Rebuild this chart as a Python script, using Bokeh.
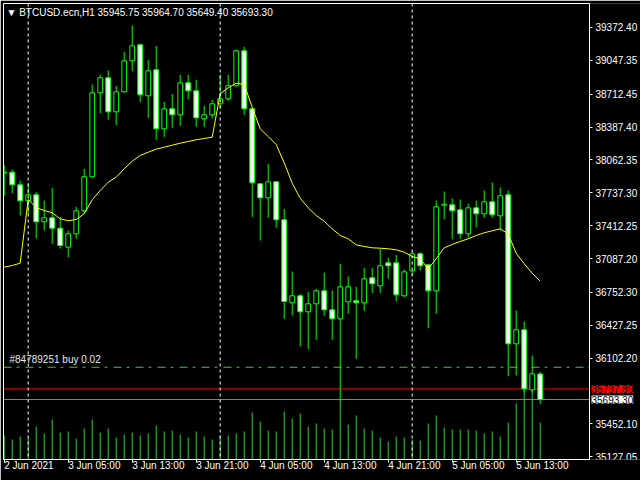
import numpy as np
from bokeh.plotting import figure
from bokeh.models import (Range1d, FixedTicker, Span, Label, ColumnDataSource,
                          NumeralTickFormatter, LinearAxis)
from bokeh.embed import file_html
from bokeh.resources import INLINE
from bokeh.core.properties import value

# ---------------- data (BTCUSD.ecn, H1) ----------------
# bar position = hours counted from 3 Jun 2021 00:00
bar_hour = list(range(-3, 65))

open_ = [37933.5, 37941.5, 37816.9, 37658.6, 37718.0, 37451.0, 37490.5, 37387.7,
         37199.8, 37332.3, 37559.7, 37896.0, 38726.7, 38875.0, 38538.8, 38736.5,
         39043.1, 39201.3, 38697.0, 38954.1, 38370.6, 38568.4, 38509.1, 38825.5,
         38746.4, 38469.5, 38509.1, 38617.9, 38667.3, 38795.9, 39142.0, 38568.4,
         37826.7, 37688.3, 37846.5, 37470.7, 36650.0, 36719.2, 36561.0, 36640.1,
         36768.6, 36580.7, 36491.7, 36659.8, 36669.7, 36650.0, 36897.2, 36818.1,
         37045.5, 37045.5, 36719.2, 36966.4, 37134.5, 37025.7, 36768.6, 37615.1,
         37619.1, 37569.6, 37332.3, 37589.4, 37530.1, 37648.7, 37510.3, 37718.0,
         36244.5, 36383.0, 35789.6, 35945.75]
high = [38007.7, 37968.2, 37859.4, 37832.7, 37743.7, 37661.6, 37787.2, 37496.5,
        37364.9, 37599.3, 37975.1, 38808.7, 38907.6, 38947.2, 38795.9, 39132.1,
        39392.2, 39211.2, 39053.0, 39191.4, 38637.6, 38716.8, 38904.7, 38904.7,
        38855.2, 38598.1, 38657.4, 38904.7, 38904.7, 39151.9, 39181.5, 38571.4,
        37829.7, 38024.5, 37849.5, 37579.5, 36959.5, 36739.0, 36758.7, 36788.4,
        36949.6, 36771.6, 37035.6, 36910.0, 36808.2, 36996.1, 36996.1, 37183.9,
        37095.0, 37124.6, 36979.3, 37157.3, 37150.3, 37028.7, 37661.6, 37750.6,
        37681.4, 37671.5, 37631.9, 37661.6, 37760.5, 37839.6, 37790.2, 37760.5,
        36573.8, 36465.0, 36128.8, 35964.70]
low = [37711.0, 37733.8, 37513.3, 37533.0, 37285.8, 37364.9, 37233.4, 37186.9,
       37100.9, 37282.9, 37530.1, 37884.1, 38524.9, 38459.6, 38410.2, 38729.6,
       38940.3, 38633.7, 38479.4, 38261.9, 38291.5, 38380.5, 38400.3, 38663.4,
       38390.4, 38390.4, 38472.5, 38568.4, 38647.5, 38788.9, 38509.1, 37500.4,
       37266.0, 37490.5, 37391.6, 36491.7, 36524.4, 36217.8, 36191.1, 36284.1,
       36521.4, 36284.1, 35683.8, 36541.2, 36096.2, 36570.8, 36748.9, 36748.9,
       36887.3, 36665.8, 36707.3, 36919.9, 36969.4, 36398.8, 36541.2, 37476.7,
       37278.9, 37282.9, 37292.8, 37397.6, 37490.5, 37490.5, 37364.9, 35924.1,
       35931.0, 35762.9, 35762.9, 35649.40]
close = [37943.4, 37816.9, 37658.6, 37718.0, 37451.0, 37490.5, 37387.7, 37216.6,
         37332.3, 37559.7, 37896.0, 38726.7, 38875.0, 38538.8, 38736.5, 39043.1,
         39191.4, 38706.9, 38944.2, 38370.6, 38568.4, 38509.1, 38825.5, 38746.4,
         38479.4, 38509.1, 38617.9, 38667.3, 38795.9, 39142.0, 38568.4, 37836.6,
         37688.3, 37846.5, 37470.7, 36662.8, 36719.2, 36561.0, 36640.1, 36768.6,
         36580.7, 36491.7, 36808.2, 36808.2, 36650.0, 36887.3, 36837.9, 37015.9,
         37015.9, 36729.1, 36956.5, 37134.5, 37015.9, 36768.6, 37599.3, 37625.0,
         37559.7, 37332.3, 37589.4, 37530.1, 37648.7, 37520.2, 37708.1, 36244.5,
         36383.0, 35799.5, 35947.8, 35693.30]
moving_avg = [37002.0, 37018.8, 37041.6, 37671.5, 37592.4, 37562.7, 37540.0, 37480.6,
              37460.9, 37473.7, 37530.1, 37668.5, 37760.5, 37842.6, 37892.0, 37975.1,
              38050.2, 38106.6, 38139.2, 38168.9, 38188.7, 38208.5, 38228.2, 38245.1,
              38261.9, 38274.7, 38287.5, 38716.8, 38776.1, 38821.6, 38808.7, 38584.2,
              38370.6, 38294.5, 38215.4, 38034.4, 37832.7, 37684.3, 37589.4, 37513.3,
              37456.9, 37381.7, 37315.5, 37282.9, 37223.5, 37206.7, 37193.8, 37189.9,
              37183.9, 37174.1, 37150.3, 37107.8, 37085.1, 36986.2, 37085.1, 37193.8,
              37226.5, 37256.2, 37282.9, 37315.5, 37342.2, 37362.0, 37381.7, 37332.3,
              37140.4, 37035.6, 36942.7, 36863.6]
volume = [720, 600, 690, 660, 990, 780, 1200, 810, 840, 630, 930, 1200, 810, 930,
          660, 750, 810, 720, 780, 1020, 840, 870, 750, 660, 840, 690, 600, 720,
          720, 780, 840, 1410, 1140, 870, 840, 1440, 1230, 1380, 990, 1080, 930,
          900, 1800, 1050, 1320, 930, 870, 660, 540, 690, 660, 600, 570, 1080,
          1320, 960, 900, 900, 900, 870, 780, 840, 690, 1110, 1680, 2100, 2100, 1110]

x_tick_hours = [-3, 5, 13, 21, 29, 37, 45, 53, 61]
x_tick_labels = ["2 Jun 2021", "3 Jun 05:00", "3 Jun 13:00", "3 Jun 21:00",
                 "4 Jun 05:00", "4 Jun 13:00", "4 Jun 21:00", "5 Jun 05:00",
                 "5 Jun 13:00"]
price_ticks = [39372.40, 39047.35, 38712.45, 38387.40, 38062.35, 37737.30,
               37412.25, 37087.20, 36752.30, 36427.25, 36102.20, 35452.10, 35127.05]
day_separators = [0, 24, 48]
ask_price = 35797.89
bid_price = 35693.30
order_price = 36012.50
order_text = "#84789251 buy 0.02"
header_text = "\u25bc  BTCUSD.ecn,H1  35945.75 35964.70 35649.40 35693.30"

# ---------------- figure ----------------
FONT = "Liberation Sans"
FSIZE = "10px"
CANDLE_LINE = "#00ff00"
VOL_COLOR = "#32cd32"

# view window (hours) and price window
x_start, x_end = -3.0875, 76.5375
x_axis = 70.1625            # where the price scale sits
y_start, y_end = 35100.3, 39609.7

p = figure(width=640, height=480, output_backend="svg", toolbar_location=None,
           x_range=Range1d(x_start, x_end), y_range=Range1d(y_start, y_end),
           y_axis_location="right", background_fill_color="black",
           border_fill_color="black", min_border_left=3, min_border_top=3,
           min_border_right=0, min_border_bottom=21)
p.outline_line_color = None
p.grid.visible = False
p.extra_y_ranges = {"vol": Range1d(0, 13680)}

top = [max(o, c) for o, c in zip(open_, close)]
bottom = [min(o, c) for o, c in zip(open_, close)]
fill = ["white" if c < o else "black" for o, c in zip(open_, close)]
src = ColumnDataSource(dict(x=bar_hour, open=open_, high=high, low=low, close=close,
                            top=top, bottom=bottom, fill=fill, ma=moving_avg,
                            vol=volume, zero=[0] * len(volume)))

# volumes (bottom overlay)
p.segment(x0="x", y0="zero", x1="x", y1="vol", source=src, y_range_name="vol",
          line_color=VOL_COLOR, line_width=1)

# day separators
for d in day_separators:
    p.add_layout(Span(location=d, dimension="height", line_color="white",
                      line_dash="3 3", line_width=1))

# trade / price levels (stop at the price scale)
p.segment(x0=[x_start], y0=[order_price], x1=[x_axis], y1=[order_price],
          line_color=VOL_COLOR, line_dash="8 5 3 6", line_width=1)
p.segment(x0=[x_start], y0=[ask_price], x1=[x_axis], y1=[ask_price],
          line_color="red", line_width=1)
p.segment(x0=[x_start], y0=[bid_price], x1=[x_axis], y1=[bid_price],
          line_color="#778899", line_width=1)

# candles
p.segment(x0="x", y0="low", x1="x", y1="high", source=src,
          line_color=CANDLE_LINE, line_width=1)
p.vbar(x="x", width=0.6, top="top", bottom="bottom", source=src,
       fill_color="fill", line_color=CANDLE_LINE, line_width=1)

# moving average
p.line(x="x", y="ma", source=src, line_color="yellow", line_width=1)

# axes
yax = p.yaxis[0]
yax.ticker = FixedTicker(ticks=price_ticks)
yax.formatter = NumeralTickFormatter(format="0.00")
yax.fixed_location = x_axis
xax = p.xaxis[0]
xax.ticker = FixedTicker(ticks=x_tick_hours)
xax.major_label_overrides = {h: lab for h, lab in zip(x_tick_hours, x_tick_labels)}
xax.major_label_orientation = -0.0001
xax.bounds = (x_start, x_axis)
for ax in (xax, yax):
    ax.axis_label = None
    ax.axis_line_color = "white"
    ax.major_tick_line_color = "white"
    ax.minor_tick_line_color = None
    ax.major_tick_in = 0
    ax.major_tick_out = 3
    ax.major_label_text_color = "white"
    ax.major_label_text_font = FONT
    ax.major_label_text_font_size = FSIZE
    ax.major_label_standoff = 3

# frame borders on the top and left (plain axis lines, no ticks)
top_border = LinearAxis(ticker=FixedTicker(ticks=[]), bounds=(x_start, x_axis),
                        axis_line_color="white", major_tick_out=0, major_tick_in=0,
                        minor_tick_out=0, minor_tick_in=0, axis_label=None,
                        major_label_text_font_size="0px")
left_border = LinearAxis(ticker=FixedTicker(ticks=[]), axis_line_color="white",
                         major_tick_out=0, major_tick_in=0, minor_tick_out=0,
                         minor_tick_in=0, axis_label=None,
                         major_label_text_font_size="0px")
p.add_layout(top_border, "above")
p.add_layout(left_border, "left")

# header and order label
p.add_layout(Label(x=x_start, y=y_end, x_offset=3, y_offset=-3, text=header_text,
                   text_baseline="top", text_color="white", text_font=FONT,
                   text_font_size=FSIZE))
p.add_layout(Label(x=x_start, y=order_price, x_offset=6, y_offset=2, text=order_text,
                   text_baseline="bottom", text_color="#e8e8e8", text_font=FONT,
                   text_font_size=FSIZE))

# price boxes on the price scale
for price, bg in ((ask_price, "red"), (bid_price, "white")):
    p.add_layout(Label(x=x_axis, y=price, x_offset=2, text=f"{price:.2f}",
                       text_baseline="middle", text_color="black", text_font=FONT,
                       text_font_size=FSIZE, background_fill_color=bg))

open("out.html", "w").write(file_html(p, INLINE))
